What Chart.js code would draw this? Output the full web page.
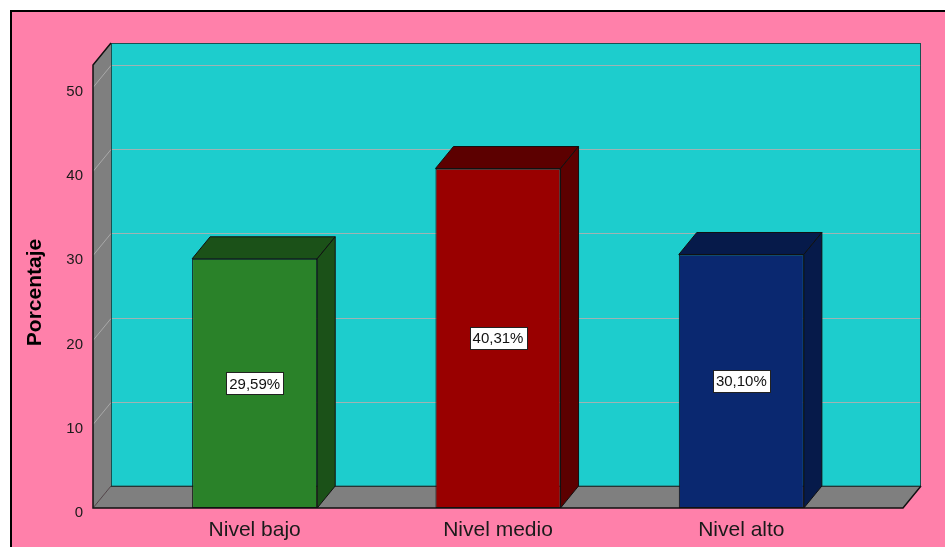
<!DOCTYPE html>
<html>
<head>
<meta charset="utf-8">
<script src="https://cdn.jsdelivr.net/npm/chart.js@4.4.1/dist/chart.umd.min.js"></script>
<style>
  html, body { margin: 0; padding: 0; background: #ffffff; }
  canvas { display: block; }
</style>
</head>
<body>
<canvas id="chart" width="945" height="547"></canvas>
<script>
// Nivel distribution, percentages per level
const categories = ['Nivel bajo', 'Nivel medio', 'Nivel alto'];
const percentages = [29.59, 40.31, 30.10];
const valueLabels = ['29,59%', '40,31%', '30,10%'];
const yTicks = [0, 10, 20, 30, 40, 50];
const faceColors = ['#2a8229', '#990000', '#0a2870'];
const shadeColors = ['#1b5118', '#5c0000', '#061a4a'];

// 3D box geometry (pixels)
const DEPTH_X = 18;
const DEPTH_Y = 22;
const WALL_EXTRA = 40;   // how far the floor reaches beyond the outer categories

function poly(ctx, pts, fill, stroke, lw) {
  ctx.beginPath();
  ctx.moveTo(pts[0][0], pts[0][1]);
  for (let i = 1; i < pts.length; i++) ctx.lineTo(pts[i][0], pts[i][1]);
  ctx.closePath();
  if (fill) { ctx.fillStyle = fill; ctx.fill(); }
  if (stroke) { ctx.strokeStyle = stroke; ctx.lineWidth = lw || 1; ctx.stroke(); }
}

const box3d = {
  id: 'box3d',
  beforeDraw(chart) {
    const ctx = chart.ctx;
    const W = chart.width, H = chart.height;
    ctx.save();
    ctx.fillStyle = '#ffffff';
    ctx.fillRect(0, 0, W, H);
    ctx.fillStyle = '#ff80aa';
    ctx.fillRect(11, 11, W, H);
    ctx.strokeStyle = '#000000';
    ctx.lineWidth = 2;
    ctx.beginPath();
    ctx.moveTo(11, H + 2);
    ctx.lineTo(11, 11);
    ctx.lineTo(W + 2, 11);
    ctx.stroke();
    ctx.restore();
  },
  beforeDatasetsDraw(chart) {
    const ctx = chart.ctx;
    const a = chart.chartArea;
    const ys = chart.scales.y;
    const xL = a.left - WALL_EXTRA, xR = a.right + WALL_EXTRA;
    const yT = a.top, yB = ys.getPixelForValue(0);
    ctx.save();
    // back wall
    poly(ctx, [[xL + DEPTH_X, yT - DEPTH_Y], [xR + DEPTH_X, yT - DEPTH_Y],
               [xR + DEPTH_X, yB - DEPTH_Y], [xL + DEPTH_X, yB - DEPTH_Y]], '#1dcdcd');
    // left wall
    poly(ctx, [[xL, yT], [xL + DEPTH_X, yT - DEPTH_Y], [xL + DEPTH_X, yB - DEPTH_Y], [xL, yB]], '#7f7f7f');
    // floor
    poly(ctx, [[xL, yB], [xL + DEPTH_X, yB - DEPTH_Y], [xR + DEPTH_X, yB - DEPTH_Y], [xR, yB]], '#7f7f7f');

    // grid lines: diagonal on the left wall, horizontal on the back wall
    ctx.lineWidth = 1;
    yTicks.forEach(v => {
      if (v === 0) return;
      const y = Math.round(ys.getPixelForValue(v)) + 0.5;
      ctx.strokeStyle = '#a9a9a9';
      ctx.beginPath();
      ctx.moveTo(xL, y);
      ctx.lineTo(xL + DEPTH_X, y - DEPTH_Y);
      ctx.stroke();
      ctx.strokeStyle = '#9fb3b3';
      ctx.beginPath();
      ctx.moveTo(xL + DEPTH_X, y - DEPTH_Y);
      ctx.lineTo(xR + DEPTH_X, y - DEPTH_Y);
      ctx.stroke();
    });

    // outlines
    ctx.strokeStyle = 'rgba(20,40,40,0.75)';
    ctx.lineWidth = 1;
    ctx.strokeRect(xL + DEPTH_X + 0.5, yT - DEPTH_Y + 0.5, xR - xL - 1, yB - yT);
    ctx.strokeStyle = '#111111';
    ctx.lineWidth = 1.5;
    ctx.beginPath();
    ctx.moveTo(xL + DEPTH_X, yT - DEPTH_Y);
    ctx.lineTo(xL, yT);
    ctx.lineTo(xL, yB);
    ctx.lineTo(xR, yB);
    ctx.lineTo(xR + DEPTH_X, yB - DEPTH_Y);
    ctx.stroke();
    ctx.lineWidth = 1;
    ctx.strokeStyle = 'rgba(30,30,30,0.6)';
    ctx.beginPath();
    ctx.moveTo(xL, yB);
    ctx.lineTo(xL + DEPTH_X, yB - DEPTH_Y);
    ctx.lineTo(xR + DEPTH_X, yB - DEPTH_Y);
    ctx.stroke();

    // value axis labels
    ctx.fillStyle = '#1a1a1a';
    ctx.font = '15px "Liberation Sans", Arial, sans-serif';
    ctx.textAlign = 'right';
    ctx.textBaseline = 'alphabetic';
    yTicks.forEach(v => {
      ctx.fillText(String(v), xL - 10, ys.getPixelForValue(v) + 9);
    });

    // axis title
    ctx.save();
    ctx.translate(41, (yT + yB) / 2 + 6);
    ctx.rotate(-Math.PI / 2);
    ctx.font = 'bold 21px "Liberation Sans", Arial, sans-serif';
    ctx.fillStyle = '#000000';
    ctx.textAlign = 'center';
    ctx.fillText('Porcentaje', 0, 0);
    ctx.restore();

    // category labels
    ctx.font = '21px "Liberation Sans", Arial, sans-serif';
    ctx.fillStyle = '#1a1a1a';
    ctx.textAlign = 'center';
    const xs = chart.scales.x;
    categories.forEach((c, i) => {
      ctx.fillText(c, xs.getPixelForValue(i), yB + 28);
    });
    ctx.restore();
  },
  afterDatasetsDraw(chart) {
    const ctx = chart.ctx;
    const meta = chart.getDatasetMeta(0);
    ctx.save();
    meta.data.forEach((bar, i) => {
      const p = bar.getProps(['x', 'y', 'base', 'width'], true);
      const x1 = p.x - p.width / 2, x2 = p.x + p.width / 2;
      const yt = p.y, yb = p.base;
      // top face
      poly(ctx, [[x1, yt], [x1 + DEPTH_X, yt - DEPTH_Y], [x2 + DEPTH_X, yt - DEPTH_Y], [x2, yt]],
           shadeColors[i], '#111111', 1);
      // side face
      poly(ctx, [[x2, yt], [x2 + DEPTH_X, yt - DEPTH_Y], [x2 + DEPTH_X, yb - DEPTH_Y], [x2, yb]],
           shadeColors[i], '#111111', 1);

      // value label box at mid height of the bar
      const cy = (yt + yb) / 2;
      ctx.font = '15px "Liberation Sans", Arial, sans-serif';
      const tw = ctx.measureText(valueLabels[i]).width;
      const bw = Math.round(tw + 6), bh = 22;
      const bx = Math.round(p.x - bw / 2) + 0.5, by = Math.round(cy - bh / 2) + 0.5;
      ctx.fillStyle = '#ffffff';
      ctx.fillRect(bx, by, bw, bh);
      ctx.strokeStyle = '#222222';
      ctx.lineWidth = 1;
      ctx.strokeRect(bx, by, bw, bh);
      ctx.fillStyle = '#111111';
      ctx.textAlign = 'center';
      ctx.textBaseline = 'middle';
      ctx.fillText(valueLabels[i], p.x, cy + 1);
    });
    ctx.restore();
  }
};

new Chart(document.getElementById('chart'), {
  type: 'bar',
  data: {
    labels: categories,
    datasets: [{
      data: percentages,
      backgroundColor: faceColors,
      borderColor: '#111111',
      borderWidth: 1,
      borderSkipped: false,
      barPercentage: 0.514,
      categoryPercentage: 1
    }]
  },
  options: {
    responsive: false,
    animation: false,
    devicePixelRatio: 1,
    layout: { padding: { left: 133, right: 82, top: 65, bottom: 39 } },
    plugins: { legend: { display: false }, tooltip: { enabled: false } },
    scales: {
      x: { display: false },
      y: { display: false, min: 0, max: 52.6 }
    }
  },
  plugins: [box3d]
});
</script>
</body>
</html>
